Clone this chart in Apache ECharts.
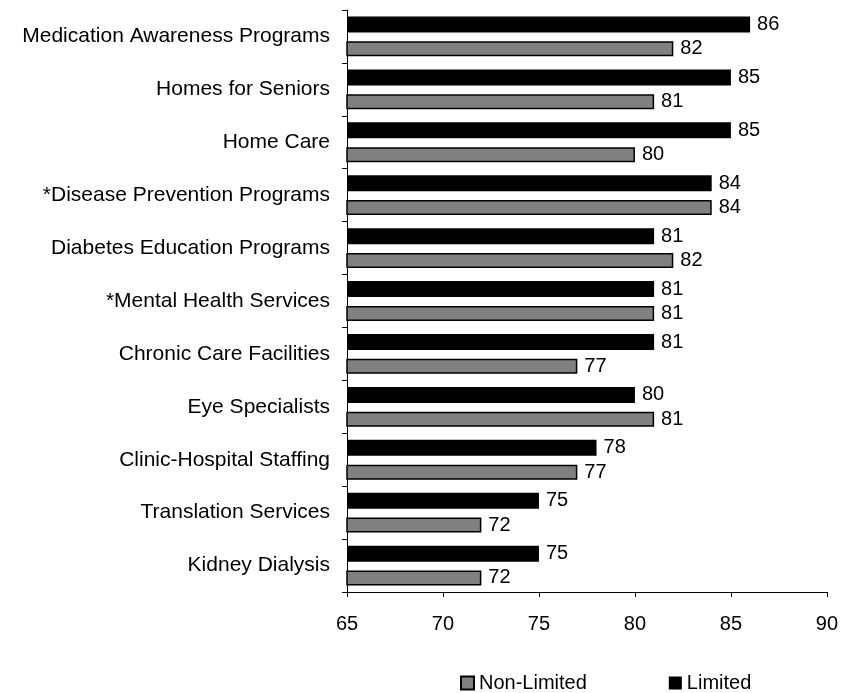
<!DOCTYPE html>
<html>
<head>
<meta charset="utf-8">
<script src="https://cdn.jsdelivr.net/npm/echarts@6/dist/echarts.min.js"></script>
<style>
  html, body { margin: 0; padding: 0; background: #fff; }
  #chart { width: 841px; height: 693px; }
</style>
</head>
<body>
<div id="chart"></div>
<script>
// Service categories, listed top to bottom
const categories = [
  'Medication Awareness Programs',
  'Homes for Seniors',
  'Home Care',
  '*Disease Prevention Programs',
  'Diabetes Education Programs',
  '*Mental Health Services',
  'Chronic Care Facilities',
  'Eye Specialists',
  'Clinic-Hospital Staffing',
  'Translation Services',
  'Kidney Dialysis'
];
const limited    = [86, 85, 85, 84, 81, 81, 81, 80, 78, 75, 75];
const nonLimited = [82, 81, 80, 84, 82, 81, 77, 81, 77, 72, 72];
const xTicks = [65, 70, 75, 80, 85, 90];

const FONT = 'Liberation Sans, Arial, sans-serif';
const chart = echarts.init(document.getElementById('chart'), null, { renderer: 'canvas' });

const labelStyle = {
  show: true,
  position: 'right',
  distance: 7,
  color: '#000',
  fontFamily: FONT,
  fontSize: 20
};

chart.setOption({
  animation: false,
  backgroundColor: '#fff',
  textStyle: { fontFamily: FONT, color: '#000' },
  grid: { left: 347, right: 14, top: 10, bottom: 101, containLabel: false },
  legend: {
    data: ['Non-Limited', 'Limited'],
    icon: 'rect',
    left: 460,
    top: 673,
    padding: 0,
    itemWidth: 13,
    itemHeight: 13,
    itemGap: 82,
    textStyle: { fontFamily: FONT, fontSize: 20, color: '#000' }
  },
  xAxis: {
    type: 'value',
    min: xTicks[0],
    max: xTicks[xTicks.length - 1],
    interval: 5,
    splitLine: { show: false },
    axisLine: { show: true, lineStyle: { color: '#000', width: 1 } },
    axisTick: { show: true, length: 5, lineStyle: { color: '#000' } },
    axisLabel: { margin: 22, fontSize: 20, fontFamily: FONT, color: '#000' }
  },
  yAxis: {
    type: 'category',
    data: categories,
    inverse: true,
    axisLine: { show: true, lineStyle: { color: '#000', width: 1 } },
    axisTick: { show: true, length: 5, lineStyle: { color: '#000' } },
    axisLabel: { margin: 17, fontSize: 21, fontFamily: FONT, color: '#000' }
  },
  series: [
    {
      name: 'Limited',
      type: 'bar',
      data: limited,
      barWidth: 16,
      barGap: '55%',
      itemStyle: { color: '#000' },
      label: labelStyle
    },
    {
      name: 'Non-Limited',
      type: 'bar',
      data: nonLimited,
      barWidth: 15,
      itemStyle: { color: '#808080', borderColor: '#000', borderWidth: 1.5 },
      label: labelStyle
    }
  ]
});
</script>
</body>
</html>
